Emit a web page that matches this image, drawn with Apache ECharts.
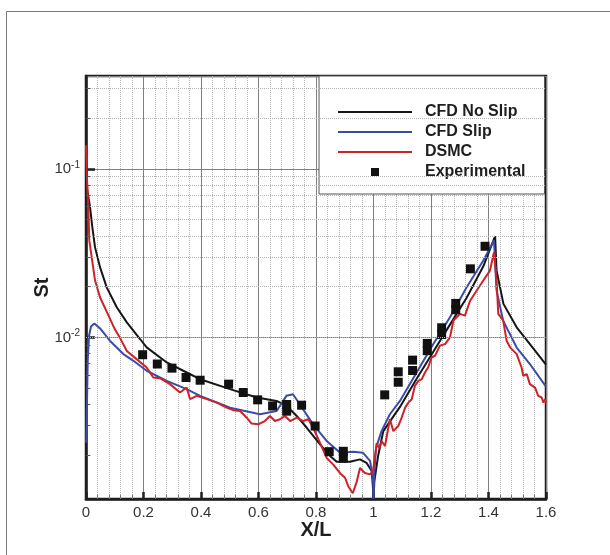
<!DOCTYPE html>
<html>
<head>
<meta charset="utf-8">
<script src="https://cdn.jsdelivr.net/npm/echarts@6/dist/echarts.min.js"></script>
<style>
  html, body { margin: 0; padding: 0; background: #fff; }
  #chart { width: 610px; height: 555px; }
</style>
</head>
<body>
<div id="chart"></div>
<script>
// Stanton number along the body, X/L

// CFD, no-slip wall
const noSlipX = [0, 0.0045, 0.0139, 0.0219, 0.0313, 0.0487, 0.072, 0.107, 0.142, 0.188, 0.211, 0.281, 0.35, 0.397, 0.501, 0.594, 0.663, 0.698, 0.733, 0.768, 0.814, 0.849, 0.872, 0.918, 0.953, 0.976, 0.994, 0.999, 1.0, 1.003, 1.016, 1.034, 1.092, 1.150, 1.208, 1.266, 1.324, 1.382, 1.423, 1.428, 1.452, 1.498, 1.544, 1.6];
const noSlipSt = [0.11, 0.0747, 0.0594, 0.0452, 0.0343, 0.0261, 0.0198, 0.0151, 0.01228, 0.00978, 0.00872, 0.0071, 0.00619, 0.00565, 0.00493, 0.0044, 0.0042, 0.00392, 0.00342, 0.00291, 0.00232, 0.00198, 0.00183, 0.00183, 0.00189, 0.0018, 0.00161, 0.00122, 0.0011, 0.0014, 0.00198, 0.00278, 0.00387, 0.00568, 0.00822, 0.0119, 0.0172, 0.0264, 0.0398, 0.0249, 0.0158, 0.01147, 0.00913, 0.0069];

// CFD, slip wall
const slipX = [0.001, 0.0035, 0.006, 0.0104, 0.0174, 0.029, 0.049, 0.083, 0.13, 0.165, 0.211, 0.281, 0.35, 0.397, 0.501, 0.605, 0.663, 0.697, 0.72, 0.744, 0.79, 0.837, 0.884, 0.93, 0.963, 0.988, 0.999, 1.0, 1.003, 1.009, 1.028, 1.057, 1.092, 1.150, 1.208, 1.266, 1.324, 1.382, 1.419, 1.428, 1.451, 1.498, 1.544, 1.6];
const slipSt = [0.00237, 0.0042, 0.0073, 0.0102, 0.0116, 0.0121, 0.0113, 0.00956, 0.00796, 0.00726, 0.00634, 0.00552, 0.00493, 0.0045, 0.00383, 0.0035, 0.00366, 0.0045, 0.0046, 0.004, 0.00305, 0.00243, 0.00207, 0.0021, 0.00207, 0.00185, 0.0014, 0.0011, 0.0016, 0.00221, 0.00278, 0.0035, 0.0042, 0.00619, 0.00913, 0.01316, 0.01985, 0.0286, 0.0376, 0.019, 0.01257, 0.0087, 0.00695, 0.0051];

// DSMC
const dsmcX = [0, 0.0024, 0.008, 0.0115, 0.0198, 0.0313, 0.0487, 0.072, 0.1, 0.12, 0.142, 0.176, 0.211, 0.234, 0.257, 0.292, 0.327, 0.35, 0.362, 0.385, 0.42, 0.455, 0.489, 0.512, 0.536, 0.559, 0.576, 0.599, 0.622, 0.64, 0.657, 0.675, 0.692, 0.71, 0.733, 0.756, 0.773, 0.79, 0.814, 0.837, 0.86, 0.883, 0.901, 0.912, 0.928, 0.942, 0.953, 0.97, 0.988, 0.998, 1.004, 1.011, 1.02, 1.028, 1.04, 1.057, 1.069, 1.086, 1.098, 1.11, 1.121, 1.133, 1.144, 1.156, 1.168, 1.179, 1.19, 1.202, 1.214, 1.231, 1.249, 1.266, 1.278, 1.301, 1.318, 1.336, 1.359, 1.382, 1.405, 1.419, 1.428, 1.434, 1.451, 1.463, 1.475, 1.498, 1.515, 1.521, 1.533, 1.544, 1.562, 1.573, 1.585, 1.591, 1.597, 1.6];
const dsmcSt = [0.138, 0.094, 0.0594, 0.0376, 0.0299, 0.0218, 0.0173, 0.0142, 0.0112, 0.0098, 0.0083, 0.00743, 0.00663, 0.00578, 0.00573, 0.00528, 0.00471, 0.00504, 0.0043, 0.0045, 0.0043, 0.0041, 0.00383, 0.0037, 0.00366, 0.00334, 0.00308, 0.00305, 0.00319, 0.00342, 0.00319, 0.00327, 0.00342, 0.00319, 0.00334, 0.00319, 0.00327, 0.00291, 0.00237, 0.00193, 0.00176, 0.00157, 0.00147, 0.00131, 0.00119, 0.0014, 0.00168, 0.00157, 0.00154, 0.00161, 0.0019, 0.00236, 0.0022, 0.00243, 0.00227, 0.00327, 0.00278, 0.00298, 0.00334, 0.00383, 0.0041, 0.0043, 0.00516, 0.00552, 0.00565, 0.00619, 0.00663, 0.0076, 0.00778, 0.00893, 0.00913, 0.01, 0.0126, 0.01378, 0.01346, 0.0165, 0.01897, 0.02176, 0.0249, 0.0319, 0.0218, 0.01378, 0.0126, 0.00956, 0.00872, 0.00796, 0.00663, 0.00592, 0.00605, 0.00528, 0.00504, 0.0045, 0.0044, 0.0041, 0.0043, 0.0041];

// Wind-tunnel measurements
const expX = [0.197, 0.248, 0.299, 0.348, 0.397, 0.496, 0.547, 0.597, 0.649, 0.698, 0.698, 0.75, 0.797, 0.846, 0.895, 0.895, 1.039, 1.086, 1.086, 1.136, 1.136, 1.187, 1.187, 1.237, 1.237, 1.286, 1.286, 1.337, 1.388];
const expSt = [0.00789, 0.00695, 0.00657, 0.00578, 0.00557, 0.00528, 0.00471, 0.00426, 0.00392, 0.004, 0.00365, 0.00396, 0.00298, 0.0021, 0.00211, 0.00192, 0.00456, 0.00625, 0.00542, 0.00733, 0.00636, 0.00921, 0.00834, 0.0114, 0.0104, 0.0159, 0.0146, 0.0255, 0.0347];

const seriesNames = ['CFD No Slip', 'CFD Slip', 'DSMC', 'Experimental'];

// Axis ranges
const xMin = 0, xMax = 1.6, xStep = 0.2;
const stMin = 0.0011, stMax = 0.355;

// Minor log gridlines: 2..9 within each decade
const minorSt = [];
[0.001, 0.01, 0.1].forEach(d => {
  for (let k = 2; k <= 9; k++) {
    const v = k * d;
    if (v > stMin && v < stMax) minorSt.push(v);
  }
});

const zip = (xs, ys) => xs.map((x, i) => [x, ys[i]]);
const FONT = 'Liberation Sans, Arial, Helvetica, sans-serif';

// Legend glyphs: a plain stroke for the curves, a small square for the measurements
const LINE_ICON = 'path://M0,0H74V2H0Z';
const SQUARE_ICON = 'path://M0,0H8V8H0Z';

const chart = echarts.init(document.getElementById('chart'), null, { renderer: 'canvas' });

const option = {
  animation: false,
  backgroundColor: '#ffffff',
  graphic: [{
    type: 'polyline',
    silent: true,
    shape: { points: [[6.5, 560], [6.5, 11.5], [620, 11.5]] },
    style: { stroke: '#7a7a7a', lineWidth: 1, fill: null }
  }],
  grid: {
    left: 86, right: 64, top: 76, bottom: 56,
    show: true, borderColor: '#1e1e1e', borderWidth: 2.5,
    backgroundColor: 'transparent', containLabel: false
  },
  legend: {
    data: [
      { name: seriesNames[0], icon: LINE_ICON },
      { name: seriesNames[1], icon: LINE_ICON },
      { name: seriesNames[2], icon: LINE_ICON },
      { name: seriesNames[3], icon: SQUARE_ICON }
    ],
    orient: 'vertical',
    left: 319, top: 76,
    itemWidth: 74, itemHeight: 8, itemGap: 4,
    symbolKeepAspect: true,
    padding: [28, 19, 14, 19],
    backgroundColor: '#ffffff',
    borderColor: '#555555', borderWidth: 1,
    selectedMode: false,
    textStyle: {
      fontFamily: FONT, fontWeight: 'bold', fontSize: 16, color: '#1e1e1e',
      lineHeight: 14, padding: [0, 0, 0, 8]
    }
  },
  xAxis: {
    type: 'value', min: xMin, max: xMax, interval: xStep,
    name: 'X/L', nameLocation: 'middle', nameGap: 21, nameMoveOverlap: false,
    nameTextStyle: { fontFamily: FONT, fontWeight: 'bold', fontSize: 20, color: '#1e1e1e' },
    axisLine: { lineStyle: { color: '#1e1e1e', width: 2.5 } },
    axisTick: { inside: true, length: 7, lineStyle: { color: '#1e1e1e', width: 2.5 } },
    minorTick: { show: true, splitNumber: 5, length: 4, lineStyle: { color: '#777', width: 1 } },
    splitLine: { show: true, lineStyle: { color: '#808080', width: 1 } },
    minorSplitLine: { show: true, lineStyle: { color: '#b4b4b4', width: 1, type: 'dotted' } },
    axisLabel: { fontFamily: FONT, fontSize: 15, color: '#333', margin: 6 }
  },
  yAxis: {
    type: 'log', logBase: 10, min: stMin, max: stMax,
    name: 'St', nameLocation: 'middle', nameGap: 34, nameRotate: 90, nameMoveOverlap: false,
    nameTextStyle: { fontFamily: FONT, fontWeight: 'bold', fontSize: 20, color: '#1e1e1e' },
    axisLine: { lineStyle: { color: '#1e1e1e', width: 2.5 } },
    axisTick: { inside: true, length: 9, lineStyle: { color: '#1e1e1e', width: 2.5 } },
    splitLine: { show: true, lineStyle: { color: '#808080', width: 1 } },
    axisLabel: {
      margin: 6,
      showMinLabel: false, showMaxLabel: false,
      formatter: v => {
        const e = Math.log10(v);
        const r = Math.round(e);
        return Math.abs(e - r) < 1e-6 ? '{b|10}{s|' + r + '}' : '';
      },
      rich: {
        b: { fontFamily: FONT, fontSize: 15, color: '#333', lineHeight: 18, verticalAlign: 'middle' },
        s: { fontFamily: FONT, fontSize: 10, color: '#333', lineHeight: 10, verticalAlign: 'top' }
      }
    }
  },
  series: [
    {
      // minor log gridlines
      type: 'line', name: 'minorGrid', data: [], silent: true, z: 1,
      markLine: {
        silent: true, animation: false, symbol: ['none', 'none'],
        label: { show: false },
        lineStyle: { color: '#b4b4b4', width: 1, type: 'dotted' },
        emphasis: { disabled: true },
        data: minorSt.map(v => ({ yAxis: v }))
      }
    },
    {
      // minor ticks on the St axis
      type: 'line', name: 'minorTicks', data: [], silent: true, z: 1,
      markLine: {
        silent: true, animation: false, symbol: ['none', 'none'],
        label: { show: false },
        lineStyle: { color: '#555', width: 1, type: 'solid' },
        emphasis: { disabled: true },
        data: minorSt.map(v => [{ coord: [xMin, v] }, { coord: [xMin + 0.015, v] }])
      }
    },
    {
      name: seriesNames[0], type: 'line', data: zip(noSlipX, noSlipSt),
      symbol: 'none', z: 3, lineStyle: { color: '#161616', width: 2 }, itemStyle: { color: '#161616' }
    },
    {
      name: seriesNames[1], type: 'line', data: zip(slipX, slipSt),
      symbol: 'none', z: 3, lineStyle: { color: '#3a4ca8', width: 2 }, itemStyle: { color: '#3a4ca8' }
    },
    {
      name: seriesNames[2], type: 'line', data: zip(dsmcX, dsmcSt),
      symbol: 'none', z: 3, lineStyle: { color: '#cc2229', width: 2 }, itemStyle: { color: '#cc2229' }
    },
    {
      name: seriesNames[3], type: 'scatter', data: zip(expX, expSt),
      symbol: 'rect', symbolSize: 9, z: 4, itemStyle: { color: '#111111', opacity: 1 }
    }
  ]
};

chart.setOption(option);
</script>
</body>
</html>
